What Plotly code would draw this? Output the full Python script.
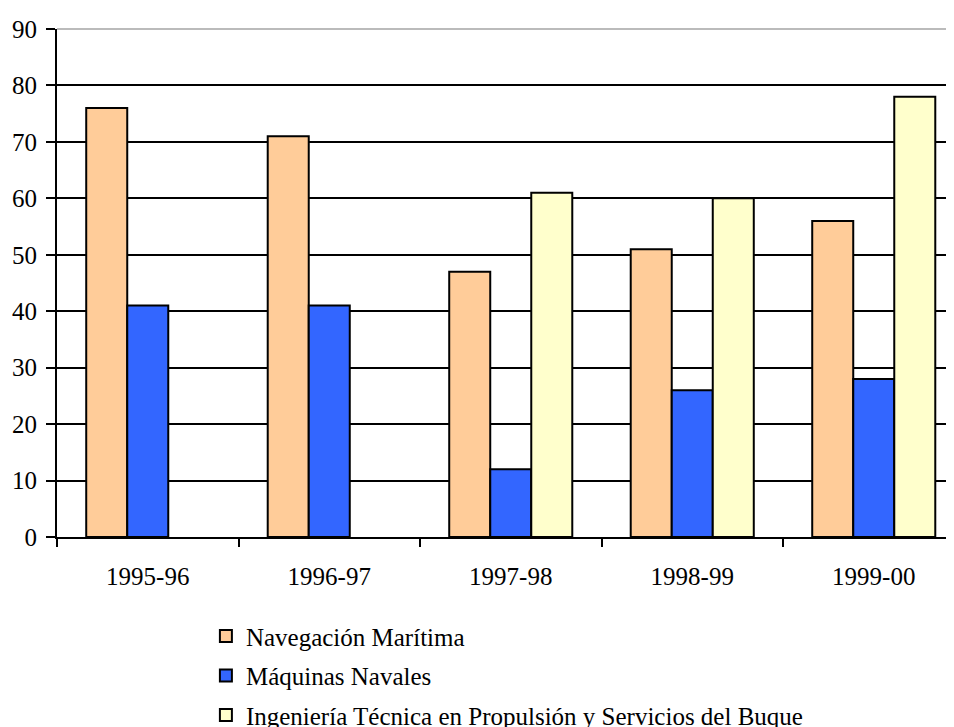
import plotly.graph_objects as go

categories = ["1995-96", "1996-97", "1997-98", "1998-99", "1999-00"]
navegacion = [76, 71, 47, 51, 56]
maquinas = [41, 41, 12, 26, 28]
ingenieria = [None, None, 61, 60, 78]
series_names = [
    "Navegación Marítima",
    "Máquinas Navales",
    "Ingeniería Técnica en Propulsión y Servicios del Buque",
]
colors = ["#FFCC99", "#3366FF", "#FFFFCC"]

fig = go.Figure()
for i, (name, vals, col) in enumerate(zip(series_names, [navegacion, maquinas, ingenieria], colors)):
    fig.add_trace(go.Bar(
        x=categories, y=vals, name=name, legendgroup=f"g{i}",
        marker=dict(color=col, line=dict(color="black", width=2)),
    ))

font = dict(family="Liberation Serif", size=25, color="black")
# the page body adds an 8px offset; margins compensate for it
fig.update_layout(
    width=954, height=727,
    margin=dict(l=49, r=8, t=21, b=198, autoexpand=False),
    paper_bgcolor="white", plot_bgcolor="white",
    font=font,
    barmode="group", bargap=0.322, bargroupgap=0,
    showlegend=True,
    legend=dict(x=0.166, y=-0.15, xanchor="left", yanchor="top",
                traceorder="grouped", tracegroupgap=4, font=font,
                itemwidth=30, bgcolor="rgba(0,0,0,0)"),
)
fig.update_xaxes(
    type="category", range=[-0.5, -0.5 + 897 / 181.5], automargin=False,
    showgrid=False, showline=True, linecolor="black", linewidth=2,
    ticks="outside", tickson="boundaries", ticklen=8, tickwidth=2, tickcolor="black",
    ticklabelstandoff=16, tickfont=font,
)
fig.update_yaxes(
    range=[0, 90], dtick=10, showgrid=True, gridcolor="black", gridwidth=2,
    showline=True, linecolor="black", linewidth=2, automargin=False,
    ticks="outside", ticklen=9, tickwidth=2, tickcolor="black",
    tickfont=font, zeroline=False, ticklabelstandoff=4,
)
fig.add_shape(type="line", xref="paper", yref="paper", x0=0, x1=1, y0=1, y1=1,
              line=dict(color="#BBBBBB", width=2))
fig.write_html("out.html")
